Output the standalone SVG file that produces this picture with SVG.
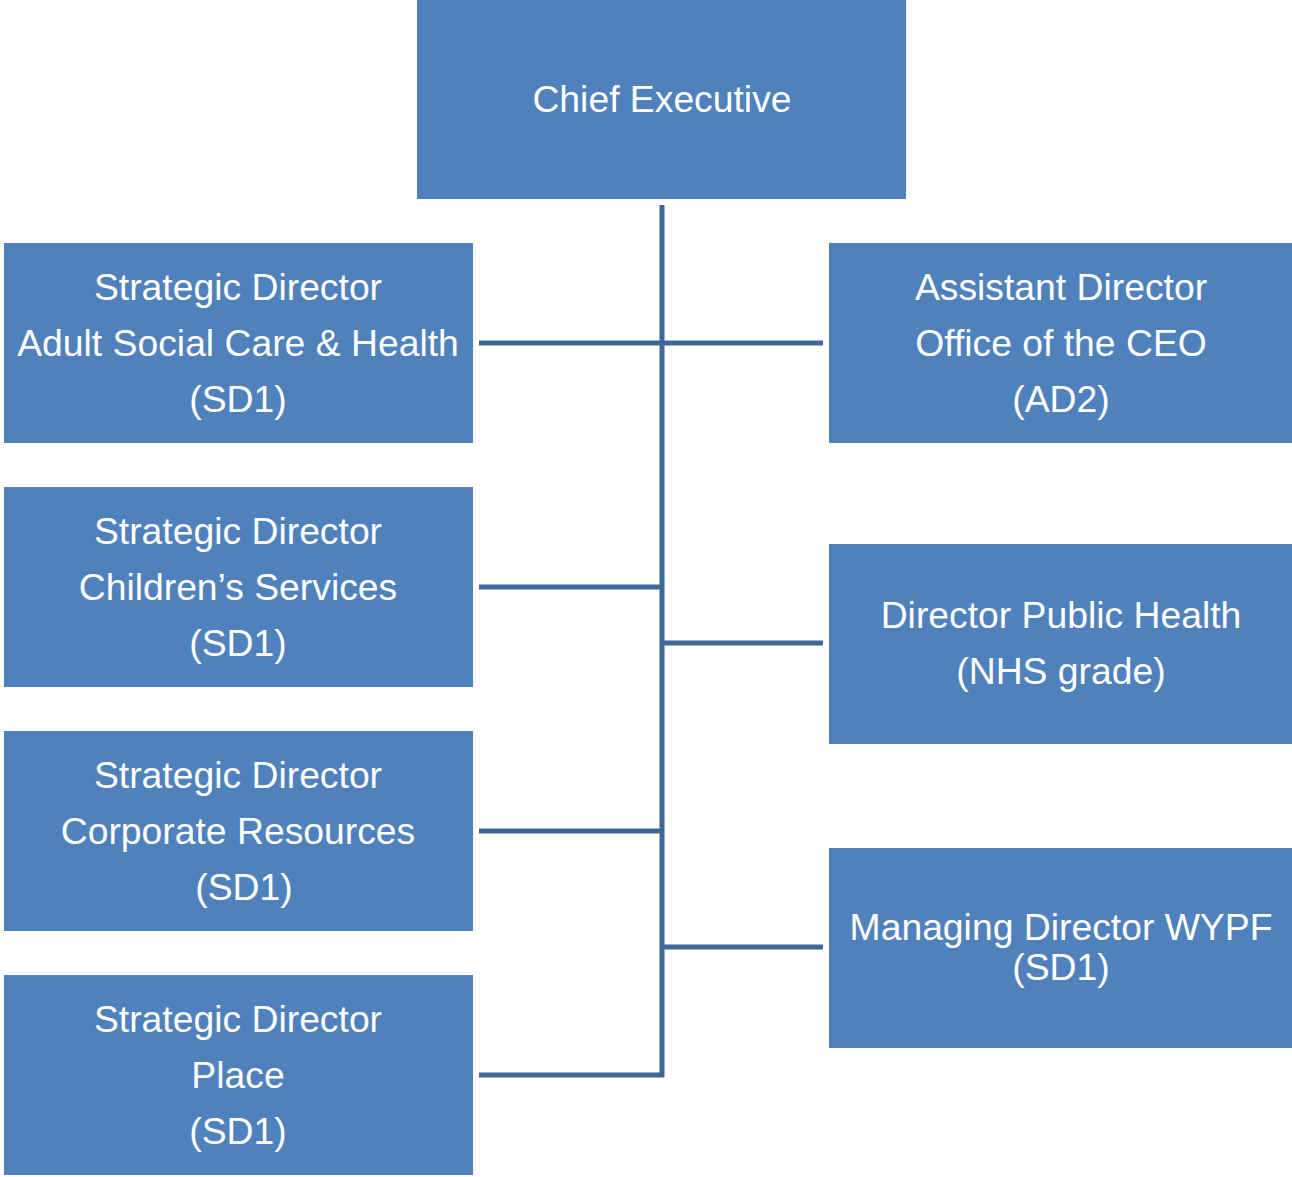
<svg xmlns="http://www.w3.org/2000/svg" width="1292" height="1177" viewBox="0 0 1292 1177">
<style>
.box{fill:#4F81BD;}
.t{font-family:"Liberation Sans",Arial,sans-serif;font-size:37.3px;fill:#FFFFFF;text-anchor:middle;}
.c{stroke:#41679A;stroke-width:5;fill:none;}
</style>
<rect width="1292" height="1177" fill="#FFFFFF"/>
<g id="connectors">
<path class="c" d="M662 205 V1077"/>
<path class="c" d="M479 343 H823"/>
<path class="c" d="M479 587 H662"/>
<path class="c" d="M479 831 H662"/>
<path class="c" d="M479 1075 H664"/>
<path class="c" d="M662 643 H823"/>
<path class="c" d="M662 947 H823"/>
</g>
<g id="chief">
<rect class="box" x="417" y="0" width="489" height="199"/>
<text class="t" x="662" y="112">Chief Executive</text>
</g>
<g id="sd-adult">
<rect class="box" x="4" y="243" width="469" height="200"/>
<text class="t" x="238" y="300">Strategic Director</text>
<text class="t" x="238" y="356">Adult Social Care &amp; Health</text>
<text class="t" x="238" y="412">(SD1)</text>
</g>
<g id="sd-children">
<rect class="box" x="4" y="487" width="469" height="200"/>
<text class="t" x="238" y="544">Strategic Director</text>
<text class="t" x="238" y="600">Children’s Services</text>
<text class="t" x="238" y="656">(SD1)</text>
</g>
<g id="sd-corporate">
<rect class="box" x="4" y="731" width="469" height="200"/>
<text class="t" x="238" y="788">Strategic Director</text>
<text class="t" x="238" y="844">Corporate Resources</text>
<text class="t" x="244" y="900">(SD1)</text>
</g>
<g id="sd-place">
<rect class="box" x="4" y="975" width="469" height="200"/>
<text class="t" x="238" y="1032">Strategic Director</text>
<text class="t" x="238" y="1088">Place</text>
<text class="t" x="238" y="1144">(SD1)</text>
</g>
<g id="ad-ceo">
<rect class="box" x="829" y="243" width="463" height="200"/>
<text class="t" x="1061" y="300">Assistant Director</text>
<text class="t" x="1061" y="356">Office of the CEO</text>
<text class="t" x="1061" y="412">(AD2)</text>
</g>
<g id="dph">
<rect class="box" x="829" y="544" width="463" height="200"/>
<text class="t" x="1061" y="628">Director Public Health</text>
<text class="t" x="1061" y="684">(NHS grade)</text>
</g>
<g id="md-wypf">
<rect class="box" x="829" y="848" width="463" height="200"/>
<text class="t" x="1061" y="940">Managing Director WYPF</text>
<text class="t" x="1061" y="980">(SD1)</text>
</g>
</svg>
